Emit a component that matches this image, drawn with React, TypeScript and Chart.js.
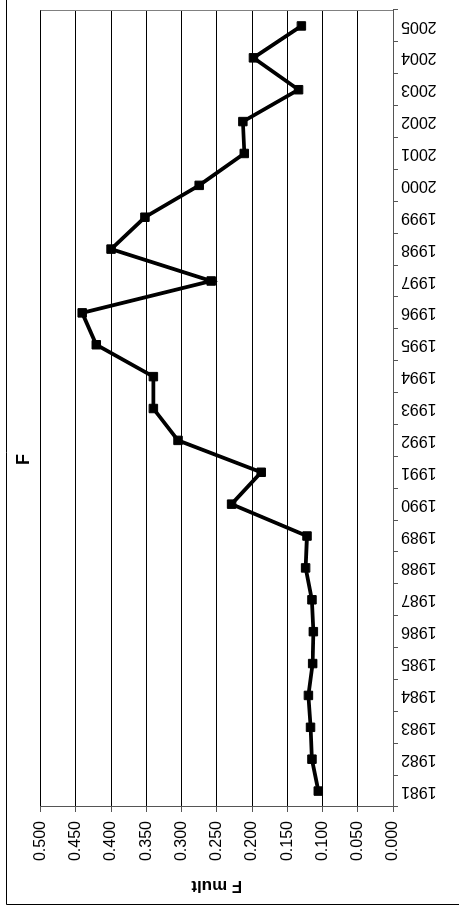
import React, { useEffect, useRef } from "react";
import { Chart, registerables } from "chart.js";

Chart.register(...registerables);

// ---- data ----
const years: string[] = [
  "1981", "1982", "1983", "1984", "1985", "1986", "1987", "1988", "1989", "1990",
  "1991", "1992", "1993", "1994", "1995", "1996", "1997", "1998", "1999", "2000",
  "2001", "2002", "2003", "2004", "2005",
];
const fMult: number[] = [
  0.106, 0.115, 0.117, 0.120, 0.114, 0.113, 0.115, 0.124, 0.122, 0.229,
  0.187, 0.305, 0.340, 0.340, 0.421, 0.441, 0.258, 0.400, 0.352, 0.275,
  0.211, 0.213, 0.134, 0.198, 0.130,
];
const chartTitle = "F";
const valueAxisTitle = "F mult";
const valueMin = 0;
const valueMax = 0.5;
const valueStep = 0.05;

// original (landscape) chart size; shown rotated a quarter turn
const W = 909;
const H = 459;

const FONT = "'Liberation Sans', Arial, Helvetica, sans-serif";

export default function App() {
  const ref = useRef<HTMLCanvasElement | null>(null);

  useEffect(() => {
    if (!ref.current) return;
    const framePlugin = {
      id: "frame",
      beforeDraw(chart: any) {
        const ctx = chart.ctx;
        ctx.save();
        ctx.fillStyle = "#ffffff";
        ctx.fillRect(0, 0, chart.width, chart.height);
        ctx.restore();
      },
      beforeDatasetsDraw(chart: any) {
        const { ctx, chartArea: a } = chart;
        ctx.save();
        ctx.strokeStyle = "#808080";
        ctx.lineWidth = 1;
        ctx.beginPath();
        ctx.moveTo(Math.round(a.right) - 0.5, a.top);
        ctx.lineTo(Math.round(a.right) - 0.5, a.bottom);
        ctx.stroke();
        ctx.restore();
      },
      afterDraw(chart: any) {
        const ctx = chart.ctx;
        ctx.save();
        ctx.strokeStyle = "#000000";
        ctx.lineWidth = 1;
        ctx.beginPath();
        ctx.moveTo(4.5, chart.height);
        ctx.lineTo(4.5, 6.5);
        ctx.lineTo(chart.width, 6.5);
        ctx.stroke();
        ctx.restore();
      },
    };

    const chart = new Chart(ref.current, {
      type: "line",
      data: {
        labels: years,
        datasets: [
          {
            data: fMult,
            borderColor: "#000000",
            backgroundColor: "#000000",
            borderWidth: 3.8,
            tension: 0,
            pointStyle: "rect",
            pointRadius: 6,
            pointBorderWidth: 1,
            pointBackgroundColor: "#000000",
            pointBorderColor: "#000000",
          },
        ],
      },
      options: {
        animation: false,
        responsive: false,
        devicePixelRatio: 1,
        layout: { padding: { top: 0, left: 0, right: 10, bottom: 0 } },
        plugins: {
          legend: { display: false },
          tooltip: { enabled: false },
          title: {
            display: true,
            text: chartTitle,
            color: "#000000",
            font: { family: FONT, size: 18, weight: "bold" },
            padding: { top: 13, bottom: 6 },
          },
        },
        scales: {
          x: {
            type: "category",
            offset: true,
            grid: {
              offset: true,
              drawOnChartArea: false,
              drawTicks: true,
              tickLength: 5,
              tickColor: "#555555",
            },
            border: { color: "#555555", width: 1 },
            ticks: {
              autoSkip: false,
              minRotation: 90,
              maxRotation: 90,
              padding: 3,
              color: "#000000",
              font: { family: FONT, size: 16 },
            },
            afterFit(scale: any) {
              scale.height = 66;
            },
          },
          y: {
            type: "linear",
            min: valueMin,
            max: valueMax,
            grid: {
              color: "#000000",
              lineWidth: 1,
              tickLength: 5,
              tickColor: "#555555",
            },
            border: { color: "#555555", width: 1 },
            ticks: {
              stepSize: valueStep,
              padding: 9,
              color: "#000000",
              font: { family: FONT, size: 16 },
              callback: (v: any) => Number(v).toFixed(3),
            },
            title: {
              display: true,
              text: valueAxisTitle,
              color: "#000000",
              font: { family: FONT, size: 17, weight: "bold" },
              padding: { top: 13, bottom: 0 },
            },
            afterFit(scale: any) {
              scale.width = 102;
            },
          },
        },
      },
      plugins: [framePlugin],
    } as any);

    return () => chart.destroy();
  }, []);

  return (
    <div
      style={{
        position: "fixed",
        left: 0,
        top: 0,
        width: H,
        height: W,
        overflow: "hidden",
        background: "#ffffff",
      }}
    >
      <div
        style={{
          position: "absolute",
          left: 0,
          top: 0,
          width: W,
          height: H,
          transformOrigin: "0 0",
          transform: `translateY(${W}px) rotate(-90deg)`,
        }}
      >
        <canvas ref={ref} width={W} height={H} style={{ display: "block", width: W, height: H }} />
      </div>
    </div>
  );
}
